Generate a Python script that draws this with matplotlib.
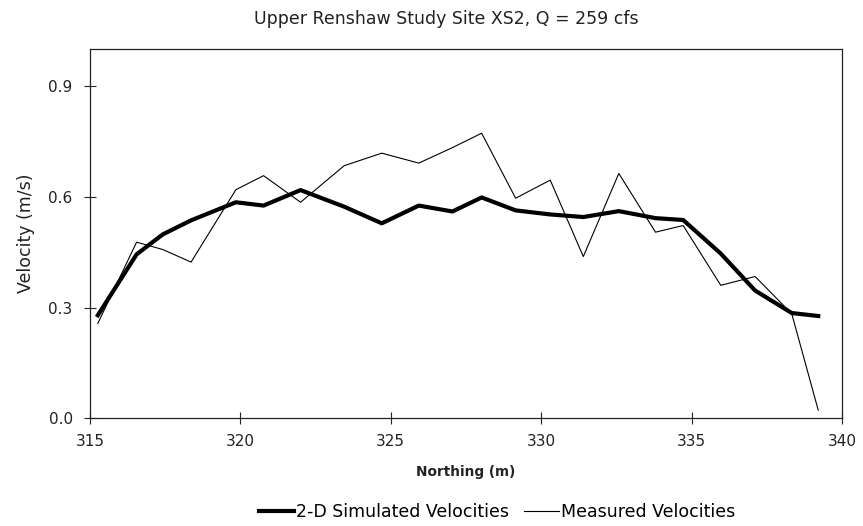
import numpy as np
import matplotlib.pyplot as plt

plt.rcParams['font.family'] = ['DejaVu Sans']

# northing positions (m)
northing = [315.26, 316.55, 317.42, 318.36, 319.85, 320.77, 322.0, 323.45,
            324.70, 325.93, 327.05, 328.02, 329.15, 330.3, 331.4, 332.58,
            333.8, 334.72, 335.97, 337.11, 338.33, 339.21]
# velocities (m/s)
simulated = [0.279, 0.444, 0.498, 0.536, 0.585, 0.576, 0.618, 0.573,
             0.528, 0.576, 0.560, 0.598, 0.563, 0.552, 0.545, 0.561,
             0.542, 0.537, 0.446, 0.346, 0.285, 0.277]
measured = [0.257, 0.477, 0.457, 0.423, 0.619, 0.657, 0.585, 0.684,
            0.718, 0.691, 0.733, 0.772, 0.596, 0.645, 0.438, 0.663,
            0.504, 0.522, 0.360, 0.384, 0.283, 0.022]

txt = '#222222'

fig = plt.figure(figsize=(8.63, 5.26), dpi=100)
ax = fig.add_axes([90/863, 1-418.3/526, (842-90)/863, (418.3-49)/526])

ax.plot(northing, simulated, color='black', lw=3.0, label='2-D Simulated Velocities')
ax.plot(northing, measured, color='black', lw=0.8, label='Measured Velocities')

ax.set_xlim(315, 340)
ax.set_ylim(0, 1.0)
ax.set_xticks([315, 320, 325, 330, 335, 340])
ax.set_yticks([0.0, 0.3, 0.6, 0.9])
ax.yaxis.set_major_formatter(plt.FormatStrFormatter('%.1f'))
ax.tick_params(direction='inout', length=9, width=0.8, labelsize=11, colors=txt)
ax.tick_params(axis='y', pad=8)
ax.tick_params(axis='x', pad=7)
for s in ax.spines.values():
    s.set_linewidth(0.9)
    s.set_color(txt)

fig.text(446/863, 1-19/526, 'Upper Renshaw Study Site XS2, Q = 259 cfs',
         ha='center', va='center', fontsize=12.5, color=txt)
ax.set_ylabel('Velocity (m/s)', fontsize=12.5, labelpad=10, color=txt)
ax.set_xlabel('Northing (m)', fontsize=9.8, fontweight='bold', labelpad=11, color=txt)

fig.legend(loc='center', bbox_to_anchor=(497/863, 1-512/526), ncol=2, frameon=False,
           fontsize=12.5, handlelength=2.0, handletextpad=0.1, columnspacing=0.9)

fig.savefig('out.png', dpi=100)
